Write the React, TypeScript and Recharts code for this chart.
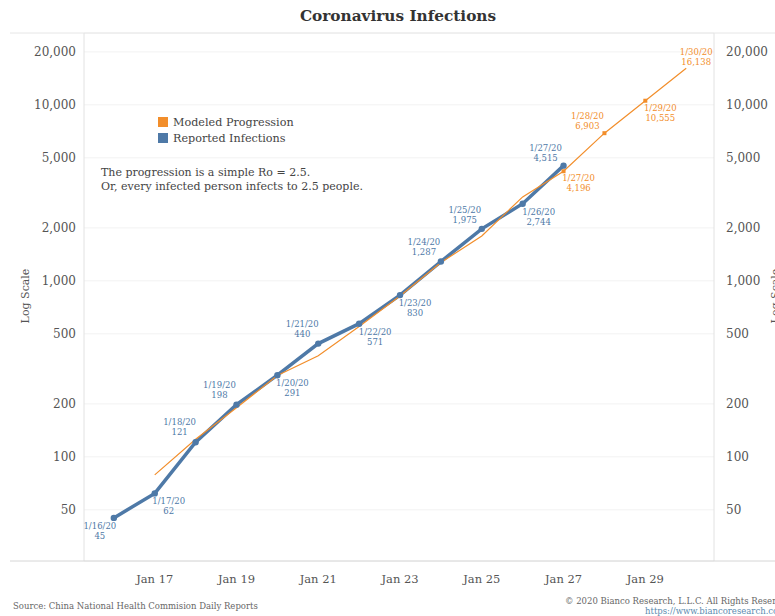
import React from 'react';
import { ComposedChart, Line, XAxis, YAxis, CartesianGrid, LabelList } from 'recharts';

// Days of January 2020
const days = [16, 17, 18, 19, 20, 21, 22, 23, 24, 25, 26, 27, 28, 29, 30];
// Confirmed cases from the daily reports
const reported = [45, 62, 121, 198, 291, 440, 571, 830, 1287, 1975, 2744, 4515, null, null, null];
// Ro = 2.5 projection
const modeled = [null, 79, 126, 190, 290, 375, 550, 820, 1270, 1800, 3000, 4196, 6903, 10555, 16138];
// Only the last few modeled points get a label
const modeledLabelled = [false, false, false, false, false, false, false, false, false, false, false, true, true, true, true];

const xTicks = [17, 19, 21, 23, 25, 27, 29];
const yTicks = [50, 100, 200, 500, 1000, 2000, 5000, 10000, 20000];

// label placement relative to the point: [dx, dy of first line]
const reportedLabelPos: [number, number][] = [
  [-14, 8], [14, 8], [-16, -20], [-17, -20], [15, 8], [-16, -20],
  [16, 8], [15, 8], [-17, -20], [-17, -19], [16, 8], [-18, -18],
];
const modeledLabelPos: Record<number, [number, number]> = {
  11: [15, 7],
  12: [-17, -17],
  13: [15, 7],
  14: [10, -16],
};

const BLUE = '#4e79a7';
const ORANGE = '#f28e2b';
const FONT = "'DejaVu Serif', Georgia, serif";

const data = days.map((d, i) => ({
  day: d,
  reported: reported[i],
  modeled: modeled[i],
}));

const fmt = (v: number) => v.toLocaleString('en-US');

const makeLabel = (color: string, pos: (i: number) => [number, number] | undefined) => (props: any) => {
  const { x, y, value, index } = props;
  if (value == null || x == null || y == null) return null;
  const p = pos(index);
  if (!p) return null;
  const cx = x + p[0];
  const cy = y + p[1];
  return (
    <text x={cx} textAnchor="middle" fill={color} fontSize={8.5} fontFamily={FONT}>
      <tspan x={cx} y={cy + 3}>{`1/${days[index]}/20`}</tspan>
      <tspan x={cx} y={cy + 13}>{fmt(value)}</tspan>
    </text>
  );
};

const ModeledDot = (props: any) => {
  const { cx, cy, index } = props;
  if (!modeledLabelled[index] || index === 14 || cy == null) return <g key={`md-${index}`} />;
  return <rect key={`md-${index}`} x={cx - 2} y={cy - 2} width={4} height={4} fill={ORANGE} />;
};

export default function App() {
  return (
    <div style={{ position: 'absolute', left: 0, top: 0, width: 775, height: 616, background: '#fff' }}>
      <ComposedChart
        width={775}
        height={616}
        data={data}
        margin={{ top: 33, right: 0, bottom: 0, left: 10 }}
      >
        <CartesianGrid yAxisId="left" vertical={false} stroke="#f2f2f2" />
        <XAxis
          dataKey="day"
          type="number"
          domain={[15.27, 30.68]}
          ticks={xTicks}
          tickFormatter={(d: number) => `Jan ${d}`}
          axisLine={false}
          tickLine={false}
          height={55}
          tick={{ fill: '#555', fontSize: 11.5, fontFamily: FONT, dy: 6 }}
        />
        <YAxis
          yAxisId="left"
          scale="log"
          domain={[25.6, 25600]}
          allowDataOverflow
          ticks={yTicks}
          tickFormatter={fmt}
          width={74}
          axisLine={{ stroke: '#e2e2e2' }}
          tickLine={false}
          tick={{ fill: '#555', fontSize: 12, fontFamily: FONT }}
        />
        <YAxis
          yAxisId="right"
          orientation="right"
          scale="log"
          domain={[25.6, 25600]}
          allowDataOverflow
          ticks={yTicks}
          tickFormatter={fmt}
          width={61}
          axisLine={{ stroke: '#e2e2e2' }}
          tickLine={false}
          tick={{ fill: '#555', fontSize: 12, fontFamily: FONT, textAnchor: 'start' }}
          tickMargin={6}
        />
        <Line
          yAxisId="left"
          dataKey="reported"
          stroke={BLUE}
          strokeWidth={3.5}
          dot={{ r: 3.2, fill: BLUE, stroke: BLUE, strokeWidth: 0 }}
          isAnimationActive={false}
        >
          <LabelList dataKey="reported" content={makeLabel(BLUE, (i) => reportedLabelPos[i])} />
        </Line>
        <Line
          yAxisId="left"
          dataKey="modeled"
          stroke={ORANGE}
          strokeWidth={1.2}
          dot={ModeledDot}
          isAnimationActive={false}
        >
          <LabelList dataKey="modeled" content={makeLabel(ORANGE, (i) => modeledLabelPos[i])} />
        </Line>
      </ComposedChart>
      <svg
        width={775}
        height={616}
        style={{ position: 'absolute', left: 0, top: 0, pointerEvents: 'none' }}
        fontFamily={FONT}
      >
        <line x1={10} x2={775} y1={33} y2={33} stroke="#e6e6e6" />
        <line x1={10} x2={775} y1={561} y2={561} stroke="#d6d6d6" />
        <text x={398} y={21} textAnchor="middle" fontSize={15.3} fontWeight="bold" fill="#333">
          Coronavirus Infections
        </text>
        <rect x={158} y={117} width={10} height={10} fill={ORANGE} />
        <rect x={158} y={133} width={10} height={10} fill={BLUE} />
        <text x={173} y={126} fontSize={11.2} fill="#444">Modeled Progression</text>
        <text x={173} y={142} fontSize={11.2} fill="#444">Reported Infections</text>
        <text x={101} y={176} fontSize={11} fill="#444">The progression is a simple Ro = 2.5.</text>
        <text x={101} y={190} fontSize={11} fill="#444">Or, every infected person infects to 2.5 people.</text>
        <text transform="translate(29,296) rotate(-90)" textAnchor="middle" fontSize={11} fill="#555">
          Log Scale
        </text>
        <text transform="translate(779,296) rotate(-90)" textAnchor="middle" fontSize={11} fill="#555">
          Log Scale
        </text>
        <text x={13} y={609} fontSize={8.5} fill="#666">
          Source: China National Health Commision Daily Reports
        </text>
        <text x={565} y={604} fontSize={8.5} fill="#666">
          © 2020 Bianco Research, L.L.C. All Rights Reserved.
        </text>
        <text x={645} y={614} fontSize={8.5} fill="#5b8bb0">
          https://www.biancoresearch.com
        </text>
      </svg>
    </div>
  );
}
